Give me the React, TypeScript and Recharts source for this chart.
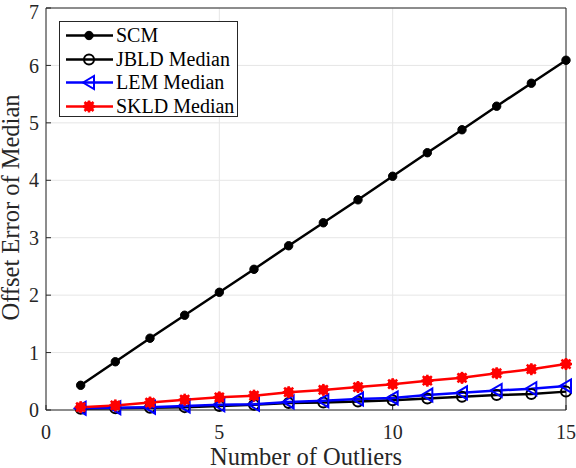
import React from 'react';
import { LineChart, Line, XAxis, YAxis, CartesianGrid, ReferenceLine } from 'recharts';

const outliers = [1, 2, 3, 4, 5, 6, 7, 8, 9, 10, 11, 12, 13, 14, 15];
const scm = [0.43, 0.84, 1.25, 1.65, 2.05, 2.45, 2.86, 3.26, 3.66, 4.07, 4.48, 4.88, 5.29, 5.69, 6.09];
const jbld = [0.02, 0.03, 0.04, 0.05, 0.07, 0.09, 0.12, 0.13, 0.15, 0.17, 0.2, 0.23, 0.26, 0.28, 0.32];
const lem = [0.03, 0.04, 0.05, 0.07, 0.09, 0.1, 0.14, 0.16, 0.19, 0.21, 0.26, 0.3, 0.34, 0.37, 0.42];
const skld = [0.05, 0.08, 0.13, 0.18, 0.22, 0.25, 0.31, 0.35, 0.4, 0.45, 0.51, 0.56, 0.64, 0.71, 0.8];
const xTicks = [0, 5, 10, 15];
const yTicks = [0, 1, 2, 3, 4, 5, 6, 7];
const seriesNames = ['SCM', 'JBLD Median', 'LEM Median', 'SKLD Median'];

const data = outliers.map((n, i) => ({ n, scm: scm[i], jbld: jbld[i], lem: lem[i], skld: skld[i] }));

const FONT = '"Liberation Serif", "Times New Roman", serif';
const AXIS = '#262626';

type MP = { cx: number; cy: number };

const DotFilled = ({ cx, cy }: MP) => <circle cx={cx} cy={cy} r={4.2} fill="#000" stroke="#000" strokeWidth={1} />;
const DotOpen = ({ cx, cy }: MP) => <circle cx={cx} cy={cy} r={5} fill="none" stroke="#000" strokeWidth={2} />;
const TriLeft = ({ cx, cy }: MP) => (
  <polygon points={`${cx - 6},${cy} ${cx + 5},${cy - 6.5} ${cx + 5},${cy + 6.5}`} fill="none" stroke="#0000ff" strokeWidth={2} />
);
const Star = ({ cx, cy }: MP) => (
  <g>
    <circle cx={cx} cy={cy} r={5} fill="#ff0000" />
    <line x1={cx - 6} y1={cy} x2={cx + 6} y2={cy} stroke="#ff0000" strokeWidth={2.5} />
    <line x1={cx} y1={cy - 6} x2={cx} y2={cy + 6} stroke="#ff0000" strokeWidth={2.5} />
    <line x1={cx - 4.5} y1={cy - 4.5} x2={cx + 4.5} y2={cy + 4.5} stroke="#ff0000" strokeWidth={2.5} />
    <line x1={cx - 4.5} y1={cy + 4.5} x2={cx + 4.5} y2={cy - 4.5} stroke="#ff0000" strokeWidth={2.5} />
  </g>
);

const markers = [DotFilled, DotOpen, TriLeft, Star];
const colors = ['#000000', '#000000', '#0000ff', '#ff0000'];
const keys = ['scm', 'jbld', 'lem', 'skld'];

const mkDot = (M: any) => (props: any) => {
  const { cx, cy, index } = props;
  if (cx == null || cy == null) return <g key={`d-${index}`} />;
  return <g key={`d-${index}`}><M cx={cx} cy={cy} /></g>;
};

export default function App() {
  return (
    <div style={{ position: 'absolute', left: 0, top: 0, width: 576, height: 468, background: '#fff' }}>
      <LineChart width={576} height={468} data={data} margin={{ top: 8, right: 10, left: 0, bottom: 0 }}>
        <CartesianGrid stroke="#e6e6e6" strokeWidth={1} />
        <XAxis
          dataKey="n"
          type="number"
          domain={[0, 15]}
          ticks={xTicks}
          height={58}
          stroke={AXIS}
          tickSize={-5}
          tickMargin={20}
          tick={{ fill: AXIS, fontSize: 20, fontFamily: FONT }}
          label={{ value: 'Number of Outliers', position: 'insideBottom', offset: 3, style: { fill: AXIS, fontSize: 24.5, fontFamily: FONT } }}
        />
        <YAxis
          type="number"
          domain={[0, 7]}
          ticks={yTicks}
          width={46}
          stroke={AXIS}
          tickSize={-5}
          tickMargin={12}
          tick={{ fill: AXIS, fontSize: 20, fontFamily: FONT }}
          label={{ value: 'Offset Error of Median', angle: -90, position: 'center', dx: -12.5, dy: -1.5, style: { fill: AXIS, fontSize: 24.5, fontFamily: FONT, textAnchor: 'middle' } }}
        />
        <ReferenceLine x={15} stroke={AXIS} strokeWidth={1} />
        <ReferenceLine y={7} stroke={AXIS} strokeWidth={1} />
        {keys.map((k, i) => (
          <Line
            key={k}
            dataKey={k}
            name={seriesNames[i]}
            stroke={colors[i]}
            strokeWidth={2.5}
            dot={mkDot(markers[i])}
            activeDot={false}
            isAnimationActive={false}
          />
        ))}
      </LineChart>
      <div
        style={{
          position: 'absolute',
          left: 59,
          top: 21,
          width: 179,
          height: 96,
          border: `1px solid ${AXIS}`,
          background: '#fff',
          fontFamily: FONT,
          fontSize: 20,
          color: '#000',
          boxSizing: 'border-box',
          paddingTop: 2,
        }}
      >
        {seriesNames.map((name, i) => {
          const M = markers[i];
          return (
            <div key={name} style={{ display: 'flex', alignItems: 'center', height: 23.5 }}>
              <svg width={56} height={23} style={{ flex: 'none' }}>
                <line x1={6} y1={11.5} x2={53} y2={11.5} stroke={colors[i]} strokeWidth={2.5} />
                <M cx={29} cy={11.5} />
              </svg>
              <span style={{ whiteSpace: 'nowrap', lineHeight: '23px' }}>{name}</span>
            </div>
          );
        })}
      </div>
    </div>
  );
}
